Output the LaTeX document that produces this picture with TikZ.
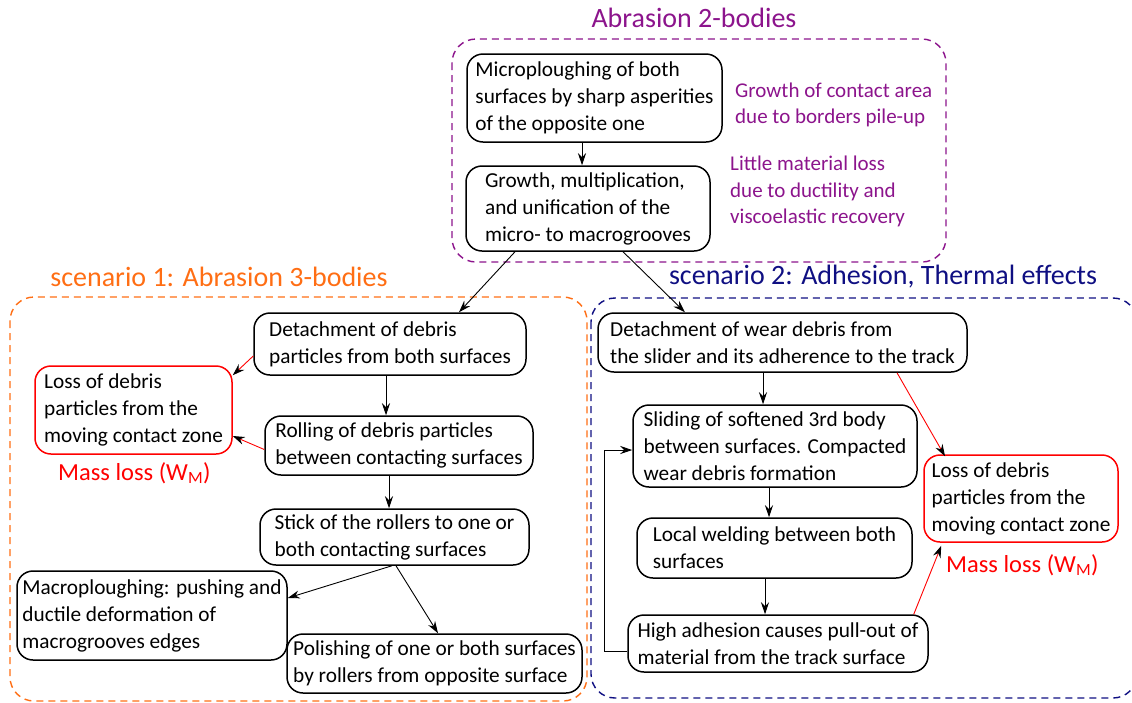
\documentclass[tikz,border=0pt]{standalone}
\usepackage{fontspec}
\setmainfont{Carlito}
\usetikzlibrary{arrows.meta}
\definecolor{abpurple}{RGB}{140,20,140}
\definecolor{aborange}{RGB}{255,110,20}
\definecolor{abnavy}{RGB}{15,15,130}
\begin{document}
\begin{tikzpicture}[x=1pt,y=-1pt,
  box/.style={draw, rounded corners=16pt, line width=1.5pt, align=left, inner sep=0pt,
    font=\fontsize{21.3}{27}\selectfont},
  redbox/.style={box, draw=red},
  group/.style={dash pattern=on 7pt off 5pt, line width=1.4pt, rounded corners=24pt},
  title/.style={font=\fontsize{28}{32}\selectfont},
  note/.style={font=\fontsize{21}{26.5}\selectfont, align=left, inner sep=0pt, text=abpurple},
  mass/.style={font=\fontsize{24.5}{28}\selectfont, text=red, inner sep=0pt},
  arr/.style={-{Stealth[length=12pt,width=8pt,inset=4pt]}, line width=0.9pt},
  rarr/.style={-{Stealth[length=12pt,width=8pt,inset=4pt,color=black]}, line width=0.9pt, draw=red}]
\useasboundingbox (0,0) rectangle (1132,702);
% group frames
\draw[group, draw=abpurple] (452,39) rectangle (946,262);
\draw[group, draw=aborange] (10,297) rectangle (587,701);
\draw[group, draw=abnavy] (591,298) rectangle (1137,698);
% titles
\node[title, text=abpurple] (t0) at (694,18) {Abrasion 2-bodies};
\node[title, text=aborange] (t1) at (219,277) {scenario 1: Abrasion 3-bodies};
\node[title, text=abnavy] (t2) at (883,277) {scenario 2: Adhesion, Thermal effects};
% abrasion 2-bodies
\node[box, minimum width=255, minimum height=88] (A1) at (594.5,98) {Microploughing of both\\surfaces by sharp asperities\\of the opposite one};
\node[box, minimum width=244, minimum height=85] (A2) at (588,208.5) {Growth, multiplication,\\and unification of the\\micro- to macrogrooves};
\node[note, anchor=west] (n1) at (735,105) {Growth of contact area\\due to borders pile-up};
\node[note, anchor=west] (n2) at (730,191.5) {Little material loss\\due to ductility and\\viscoelastic recovery};
% scenario 1
\node[box, minimum width=272, minimum height=62] (D1) at (390,344) {Detachment of debris\\particles from both surfaces};
\node[redbox, minimum width=197, minimum height=88] (L1) at (133.5,410) {Loss of debris\\particles from the\\moving contact zone};
\node[mass, anchor=west] (m1) at (58,473) {Mass loss (W\textsubscript{M})};
\node[box, minimum width=268, minimum height=59] (R1) at (399,445.5) {Rolling of debris particles\\between contacting surfaces};
\node[box, minimum width=269, minimum height=56] (S1) at (394.5,537) {Stick of the rollers to one or\\both contacting surfaces};
\node[box, minimum width=270, minimum height=89] (M1) at (152,615.5) {Macroploughing: pushing and\\ductile deformation of\\macrogrooves edges};
\node[box, minimum width=295, minimum height=59] (P1) at (434.5,663.5) {Polishing of one or both surfaces\\by rollers from opposite surface};
% scenario 2
\node[box, minimum width=369, minimum height=59] (D2) at (782.5,342.5) {Detachment of wear debris from\\the slider and its adherence to the track};
\node[box, minimum width=284, minimum height=82] (SL) at (775,446) {Sliding of softened 3rd body\\between surfaces. Compacted\\wear debris formation};
\node[box, minimum width=275, minimum height=60] (LW) at (774.5,548) {Local welding between both\\surfaces};
\node[box, minimum width=300, minimum height=57] (H) at (778,643.5) {High adhesion causes pull-out of\\material from the track surface};
\node[redbox, minimum width=194, minimum height=87] (L2) at (1021,498.5) {Loss of debris\\particles from the\\moving contact zone};
\node[mass, anchor=west] (m2) at (946,565) {Mass loss (W\textsubscript{M})};
% connectors, top
\draw[arr] ([xshift=-12.5pt]A1.south) -- ([xshift=-6pt]A2.north);
\draw[arr] ([xshift=-73pt]A2.south) -- ([xshift=69pt]D1.north);
\draw[arr] ([xshift=35pt]A2.south) -- ([xshift=-97.5pt]D2.north);
% connectors, scenario 1
\draw[rarr] ([yshift=-12pt]D1.west) -- ([yshift=-10pt]L1.north east);
\draw[rarr] ([yshift=-4pt]R1.west) -- ([yshift=-26pt]L1.east);
\draw[arr] ([xshift=-4pt]D1.south) -- ([xshift=-13pt]R1.north);
\draw[arr] ([xshift=-10pt]R1.south) -- ([xshift=-5.5pt]S1.north);
\draw[arr] ([xshift=-2.5pt]S1.south) -- ([yshift=17.5pt]M1.east);
\draw[arr] ([xshift=1.5pt]S1.south) -- ([xshift=3.5pt]P1.north);
% connectors, scenario 2
\draw[arr] ([xshift=-19.5pt]D2.south) -- ([xshift=-12pt]SL.north);
\draw[arr] ([xshift=-6pt]SL.south) -- ([xshift=-5.5pt]LW.north);
\draw[arr] ([xshift=-9.5pt]LW.south) -- ([xshift=-13pt]H.north);
\draw[rarr] ([xshift=114.5pt]D2.south) -- ([xshift=-76pt,yshift=-2pt]L2.north);
\draw[rarr] ([xshift=-15pt]H.north east) -- ([xshift=18pt,yshift=-3pt]L2.south west);
\draw[arr] ([yshift=-8pt]H.west) -- ++(-23,0) |- ([yshift=-4pt]SL.west);
\end{tikzpicture}
\end{document}
